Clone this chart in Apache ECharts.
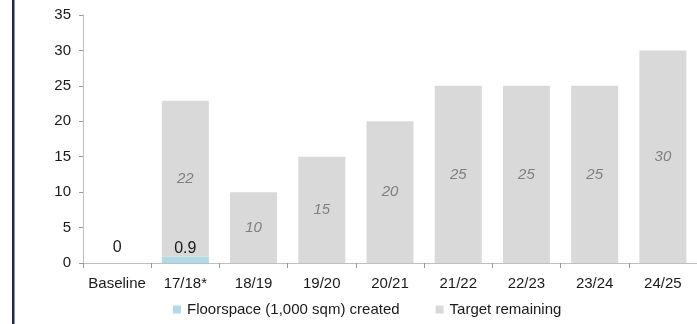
<!DOCTYPE html>
<html>
<head>
<meta charset="utf-8">
<script src="https://cdn.jsdelivr.net/npm/echarts@6/dist/echarts.min.js"></script>
<style>
  html, body { margin: 0; padding: 0; background: #fff; }
  #chart { width: 697px; height: 324px; }
</style>
</head>
<body>
<div id="chart"></div>
<script>
// Fiscal years on the x axis
const categories = ['Baseline', '17/18*', '18/19', '19/20', '20/21', '21/22', '22/23', '23/24', '24/25'];
// Floorspace created so far (1,000 sqm); only the first two years are reported
const floorspaceCreated = [0, 0.9, null, null, null, null, null, null, null];
// Remaining target per year (1,000 sqm)
const targetRemaining = [null, 22, 10, 15, 20, 25, 25, 25, 30];
// Value axis ticks
const yMin = 0, yMax = 35, yStep = 5;

const FONT = 'Liberation Sans, Arial, sans-serif';
const FS = 15;
const TEXT = '#1a1a1a';
const chart = echarts.init(document.getElementById('chart'), null, { renderer: 'canvas' });

// Labels above the created-floorspace bars sit on one common line,
// so the zero bar gets a little extra lift.
const createdData = floorspaceCreated.map(function (v) {
  return v === 0 ? { value: v, label: { distance: 7 } } : v;
});

chart.setOption({
  animation: false,
  textStyle: { fontFamily: FONT },
  grid: { left: 83, top: 15, width: 622, height: 248 },
  graphic: [{
    type: 'rect',
    shape: { x: 12, y: 0, width: 2.5, height: 324 },
    style: { fill: '#1c2b47' },
    silent: true
  }],
  legend: {
    left: 168,
    top: 297,
    icon: 'rect',
    itemWidth: 8,
    itemHeight: 8,
    itemGap: 36,
    textStyle: { fontFamily: FONT, fontSize: FS, color: TEXT, padding: [0, 0, 0, 1] },
    data: ['Floorspace (1,000 sqm) created', 'Target remaining']
  },
  xAxis: {
    type: 'category',
    data: categories,
    axisLine: { lineStyle: { color: '#bfbfbf' } },
    axisTick: { show: true, length: 5, lineStyle: { color: '#9a9a9a' } },
    axisLabel: { color: TEXT, fontSize: FS, fontFamily: FONT, margin: 13, interval: 0 }
  },
  yAxis: {
    type: 'value',
    min: yMin,
    max: yMax,
    interval: yStep,
    splitLine: { show: false },
    axisLine: { show: true, lineStyle: { color: '#bfbfbf' } },
    axisTick: { show: true, length: 4, lineStyle: { color: '#9a9a9a' } },
    axisLabel: { color: TEXT, fontSize: FS, fontFamily: FONT, margin: 12 }
  },
  series: [
    {
      name: 'Floorspace (1,000 sqm) created',
      type: 'bar',
      stack: 'total',
      barWidth: 47,
      data: createdData,
      itemStyle: { color: '#b0dbe6' },
      label: {
        show: true,
        position: 'top',
        distance: 0,
        color: TEXT,
        fontSize: 16,
        fontFamily: FONT
      }
    },
    {
      name: 'Target remaining',
      type: 'bar',
      stack: 'total',
      barWidth: 47,
      data: targetRemaining,
      itemStyle: { color: '#d9d9d9' },
      label: {
        show: true,
        position: 'inside',
        color: '#808080',
        fontStyle: 'italic',
        fontSize: FS,
        fontFamily: FONT
      }
    }
  ]
});
</script>
</body>
</html>
